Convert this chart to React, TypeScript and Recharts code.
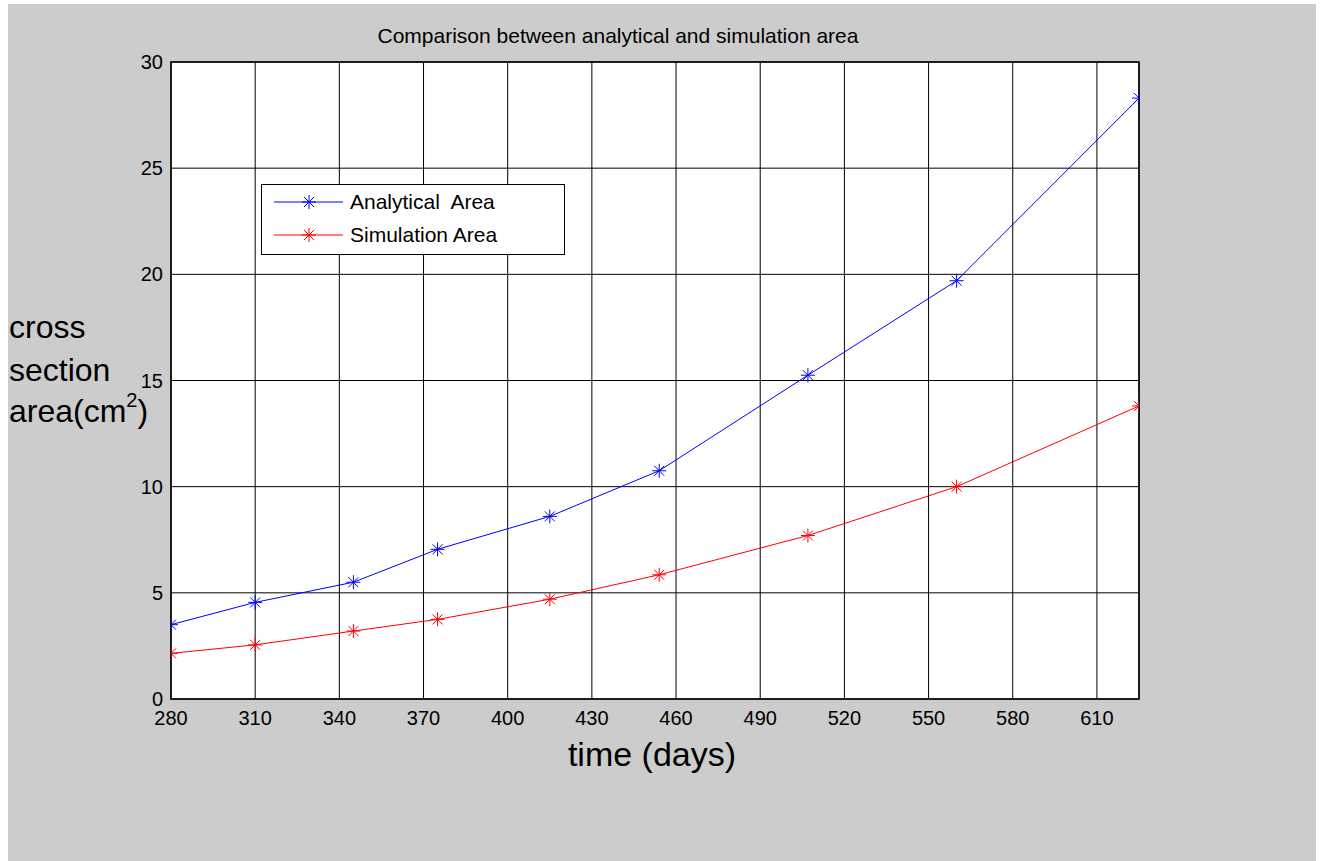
import React from 'react';
import {
  LineChart,
  Line,
  XAxis,
  YAxis,
  CartesianGrid,
  ReferenceArea,
  Legend,
  Customized,
} from 'recharts';

// Measurement days and the two area series (cm^2)
const days = [280, 310, 345, 375, 415, 454, 507, 560, 625];
const analyticalArea = [3.5, 4.55, 5.5, 7.05, 8.6, 10.75, 15.25, 19.7, 28.3];
const simulationArea = [2.15, 2.55, 3.2, 3.75, 4.7, 5.85, 7.7, 10.0, 13.8];

const xTicks = [280, 310, 340, 370, 400, 430, 460, 490, 520, 550, 580, 610];
const yTicks = [0, 5, 10, 15, 20, 25, 30];

const seriesNames = ['Analytical  Area', 'Simulation Area'];
const seriesColors = ['#0000ff', '#ff0000'];

const data = days.map((d, i) => ({
  day: d,
  analytical: analyticalArea[i],
  simulation: simulationArea[i],
}));

const FONT = '"Liberation Sans", Arial, Helvetica, sans-serif';
const W = 1308;
const H = 857;
const Y_AXIS_W = 60;
const X_AXIS_H = 40;
const margin = { top: 58, left: 163 - Y_AXIS_W, right: 177, bottom: 162 - X_AXIS_H };

// MATLAB-style '*' marker: a plus overlaid with an x
const Asterisk = (props: any) => {
  const { cx, cy, stroke } = props;
  if (cx == null || cy == null) return null;
  const a = 7;
  const d = 5;
  return (
    <g stroke={stroke} strokeWidth={1} fill="none">
      <line x1={cx} y1={cy - a} x2={cx} y2={cy + a} />
      <line x1={cx - a} y1={cy} x2={cx + a} y2={cy} />
      <line x1={cx - d} y1={cy - d} x2={cx + d} y2={cy + d} />
      <line x1={cx - d} y1={cy + d} x2={cx + d} y2={cy - d} />
    </g>
  );
};

const LegendBox = () => (
  <div
    style={{
      width: 304,
      height: 71,
      boxSizing: 'border-box',
      border: '1px solid #000',
      background: '#fff',
    }}
  >
    <svg width={302} height={69} style={{ display: 'block' }}>
      {seriesNames.map((name, i) => {
        const y = 17 + i * 33;
        return (
          <g key={name}>
            <line x1={12} y1={y} x2={81} y2={y} stroke={seriesColors[i]} strokeWidth={1} />
            <Asterisk cx={47} cy={y} stroke={seriesColors[i]} />
            <text
              x={88}
              y={y + 7}
              fontFamily={FONT}
              fontSize={21}
              fill="#000"
              style={{ whiteSpace: 'pre' }}
              xmlSpace="preserve"
            >
              {name}
            </text>
          </g>
        );
      })}
    </svg>
  </div>
);

const Texts = () => (
  <g fontFamily={FONT} fill="#000">
    <text x={610} y={39} fontSize={21} textAnchor="middle">
      Comparison between analytical and simulation area
    </text>
    <text x={644} y={762} fontSize={34} textAnchor="middle">
      time (days)
    </text>
    <text x={1} y={334} fontSize={32}>cross</text>
    <text x={1} y={377} fontSize={32}>section</text>
    <text x={1} y={418} fontSize={32}>
      area(cm
      <tspan fontSize={20} dy={-15}>2</tspan>
      <tspan dy={15}>)</tspan>
    </text>
  </g>
);

export default function App() {
  return (
    <div
      style={{
        position: 'absolute',
        left: 8,
        top: 4,
        width: W,
        height: H,
        background: '#cccccc',
      }}
    >
      <LineChart width={W} height={H} data={data} margin={margin}>
        <CartesianGrid
          stroke="#000"
          strokeWidth={1}
          fill="#ffffff"
          fillOpacity={1}
        />
        <XAxis
          dataKey="day"
          type="number"
          domain={[280, 625]}
          ticks={xTicks}
          height={X_AXIS_H}
          tickLine={false}
          axisLine={false}
          tickMargin={6}
          tick={{ fill: '#000', fontSize: 20, fontFamily: FONT }}
          allowDataOverflow
        />
        <YAxis
          type="number"
          domain={[0, 30]}
          ticks={yTicks}
          width={Y_AXIS_W}
          tickLine={false}
          axisLine={false}
          tick={{ fill: '#000', fontSize: 20, fontFamily: FONT }}
          allowDataOverflow
        />
        <ReferenceArea
          x1={280}
          x2={625}
          y1={0}
          y2={30}
          fill="none"
          fillOpacity={0}
          stroke="#000"
          strokeWidth={1.5}
          strokeOpacity={1}
        />
        <Line
          type="linear"
          dataKey="analytical"
          name={seriesNames[0]}
          stroke={seriesColors[0]}
          strokeWidth={1}
          dot={<Asterisk />}
          activeDot={false}
          isAnimationActive={false}
        />
        <Line
          type="linear"
          dataKey="simulation"
          name={seriesNames[1]}
          stroke={seriesColors[1]}
          strokeWidth={1}
          dot={<Asterisk />}
          activeDot={false}
          isAnimationActive={false}
        />
        <Legend
          layout="horizontal"
          verticalAlign="middle"
          align="center"
          content={() => <LegendBox />}
          wrapperStyle={{ left: 253, top: 180, width: 304, height: 71 }}
        />
        <Customized component={Texts} />
      </LineChart>
    </div>
  );
}
